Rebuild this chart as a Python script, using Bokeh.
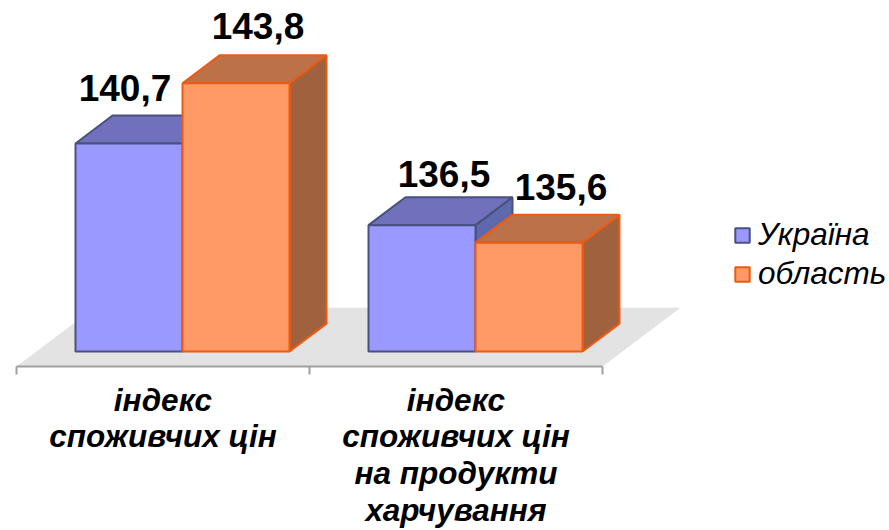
from bokeh.plotting import figure
from bokeh.models import Range1d, LinearAxis, FixedTicker, Legend, LegendItem, ColumnDataSource
from bokeh.core.properties import value
from bokeh.embed import file_html
from bokeh.resources import INLINE

categories = ["індекс\nспоживчих цін", "індекс\nспоживчих цін\nна продукти\nхарчування"]
ukraine = [140.7, 136.5]
oblast = [143.8, 135.6]
series_names = ["Україна", "область"]
value_labels = [["140,7", "136,5"], ["143,8", "135,6"]]

BASE = 130.0
W, H = 889, 530
PX_X = 293.0      # px per category
PX_Y = 19.5       # px per value unit
LEFT = 16         # category 0 from the figure's left edge
AXIS_TOP = 367    # frame height
BAR_W = 107 / PX_X
BAR_GAP = 59 / PX_X
DX, DY = 37 / PX_X, 28 / PX_Y
FX, FY = 78 / PX_X, 59 / PX_Y

x0 = -LEFT / PX_X
x1 = x0 + W / PX_X
y0 = BASE - 15 / PX_Y
y1 = y0 + AXIS_TOP / PX_Y

p = figure(width=W, height=H, output_backend="svg", toolbar_location=None,
           x_range=Range1d(x0, x1), y_range=Range1d(y0, y1),
           min_border_left=0, min_border_right=0, min_border_top=0,
           min_border_bottom=H - AXIS_TOP, x_axis_type=None, y_axis_type=None,
           outline_line_color=None, background_fill_color="white")
p.grid.visible = False

n = len(categories)
# floor
p.patch([0, n, n + FX, FX], [y0, y0, y0 + FY, y0 + FY], fill_color="#E3E3E3", line_color=None)

styles = [
    dict(front="#9999FF", edge="#48527F", top="#7070BC", side="#6068AC"),
    dict(front="#FF9966", edge="#EE5A12", top="#BC7148", side="#A0623E"),
]
series = [ukraine, oblast]
legend_items = []
for i in range(n):
    for s, vals in enumerate(series):
        st = styles[s]
        l = i + BAR_GAP + s * BAR_W
        r = l + BAR_W
        v = vals[i]
        p.patch([r, r + DX, r + DX, r], [BASE, BASE + DY, v + DY, v],
                fill_color=st["side"], line_color=st["edge"], line_width=2)
        p.patch([l, l + DX, r + DX, r], [v, v + DY, v + DY, v],
                fill_color=st["top"], line_color=st["edge"], line_width=2)
        q = p.quad(left=l, right=r, bottom=BASE, top=v,
                   fill_color=st["front"], line_color=st["edge"], line_width=2)
        if i == 0:
            legend_items.append(LegendItem(label=series_names[s], renderers=[q]))

# value labels
lab_x, lab_y, lab_t, off_x, off_y = [], [], [], [], []
shift_x = [[-4, 22], [22, 32]]
shift_y = [[-55, -51], [-57, -56]]
for s, vals in enumerate(series):
    for i in range(n):
        lab_x.append(i + BAR_GAP + s * BAR_W + BAR_W / 2)
        lab_y.append(vals[i])
        lab_t.append(value_labels[s][i])
        off_x.append(shift_x[s][i])
        off_y.append(shift_y[s][i])
src = ColumnDataSource(dict(x=lab_x, y=lab_y, t=lab_t, ox=off_x, oy=off_y))
p.text("x", "y", text="t", source=src, x_offset="ox", y_offset="oy",
       text_font=value("Liberation Sans"), text_font_style="bold", text_font_size="37px",
       text_align="center", text_baseline="alphabetic", text_color="black")

# axis
mids = [i + 0.5 for i in range(n)]
axis = LinearAxis(ticker=FixedTicker(ticks=mids, minor_ticks=list(range(n + 1))),
                  bounds=(0, n))
axis.major_label_overrides = {m: c for m, c in zip(mids, categories)}
axis.major_label_text_font = "Liberation Sans"
axis.major_label_text_font_style = "bold italic"
axis.major_label_text_font_size = "31.5px"
axis.major_label_text_color = "black"
axis.major_label_text_line_height = 1.02
axis.major_label_standoff = 7
axis.major_tick_line_color = None
axis.minor_tick_out = 8
axis.minor_tick_in = 0
axis.minor_tick_line_color = "#A0A0A0"
axis.minor_tick_line_width = 2
axis.axis_line_color = "#A0A0A0"
axis.axis_line_width = 2
p.add_layout(axis, "below")

legend = Legend(items=legend_items, location=(733, 74),
                border_line_color=None, background_fill_alpha=0, padding=0, margin=0,
                spacing=2, glyph_width=18, glyph_height=18, label_standoff=7,
                label_text_font="Liberation Sans", label_text_font_style="italic",
                label_text_font_size="31.5px", label_text_color="black",
                label_height=30)
p.add_layout(legend, "center")

open("out.html", "w").write(file_html(p, INLINE))
